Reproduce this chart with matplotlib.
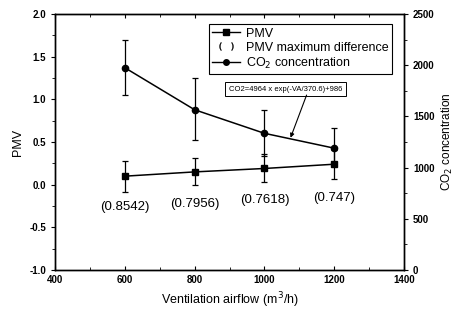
import numpy as np
import matplotlib.pyplot as plt
from matplotlib.ticker import MultipleLocator

plt.rcParams['font.family'] = ['Liberation Sans', 'DejaVu Sans']

airflow = [600, 800, 1000, 1200]
pmv = [0.10, 0.15, 0.19, 0.24]
pmv_low = [-0.08, 0.00, 0.035, 0.07]
pmv_high = [0.275, 0.31, 0.36, 0.41]
co2 = [1975, 1565, 1335, 1190]
co2_low = [1710, 1270, 1110, 1020]
co2_high = [2250, 1870, 1565, 1390]
pmv_diff = ['(0.8542)', '(0.7956)', '(0.7618)', '(0.747)']
diff_y = [-0.26, -0.23, -0.18, -0.15]

fig = plt.figure(figsize=(4.59, 3.17), dpi=100)
ax = fig.add_axes([0.12, 0.148, 0.76, 0.808])
ax2 = ax.twinx()

pmv = np.array(pmv)
perr = [pmv - np.array(pmv_low), np.array(pmv_high) - pmv]
ax.errorbar(airflow, pmv, yerr=perr, color='black', marker='s', ms=4.5,
            lw=1.1, elinewidth=0.9, capsize=2.5, capthick=0.9)
co2 = np.array(co2)
cerr = [co2 - np.array(co2_low), np.array(co2_high) - co2]
ax2.errorbar(airflow, co2, yerr=cerr, color='black', marker='o', ms=4.5,
             lw=1.1, elinewidth=0.9, capsize=2.5, capthick=0.9)

for x, y, s in zip(airflow, diff_y, pmv_diff):
    ax.text(x, y, s, ha='center', va='center', fontsize=9.5)

ax.set_xlim(400, 1400)
ax.set_ylim(-1.0, 2.0)
ax2.set_ylim(0, 2500)
ax.xaxis.set_major_locator(MultipleLocator(200))
ax.xaxis.set_minor_locator(MultipleLocator(100))
ax.yaxis.set_major_locator(MultipleLocator(0.5))
ax.yaxis.set_minor_locator(MultipleLocator(0.25))
ax2.yaxis.set_major_locator(MultipleLocator(500))
ax2.yaxis.set_minor_locator(MultipleLocator(250))
ax.yaxis.set_major_formatter(plt.FormatStrFormatter('%.1f'))

ax.tick_params(axis='x', which='both', direction='in', top=True, labelsize=7)
ax.tick_params(axis='x', which='major', length=3)
ax.tick_params(axis='x', which='minor', length=2)
ax.tick_params(axis='y', which='major', direction='out', length=3, labelsize=7)
ax.tick_params(axis='y', which='minor', direction='out', length=2)
ax2.tick_params(axis='y', which='major', direction='out', length=3, labelsize=7)
ax2.tick_params(axis='y', which='minor', direction='out', length=2)
for t in ax.get_xticklabels() + ax.get_yticklabels() + ax2.get_yticklabels():
    t.set_fontweight('bold')

ax.set_xlabel('Ventilation airflow (m$^3$/h)', fontsize=9)
ax.set_ylabel('PMV', fontsize=9)
ax2.set_ylabel('CO$_2$ concentration', fontsize=8.5, labelpad=4)

h1, = ax.plot([], [], color='black', marker='s', ms=4, lw=1)
h2, = ax.plot([], [], ls='none', marker='$(\\ \\ \\ )$', ms=10, mew=0.3, color='black')
h3, = ax.plot([], [], color='black', marker='o', ms=4, lw=1)
leg = ax.legend([h1, h2, h3], ['PMV', 'PMV maximum difference', 'CO$_2$ concentration'],
                loc='upper right', bbox_to_anchor=(0.985, 0.985), fontsize=9,
                fancybox=False, edgecolor='black', framealpha=1,
                handlelength=2.2, handletextpad=0.5, borderpad=0.3, labelspacing=0.15)
leg.get_frame().set_linewidth(0.8)

ax.text(1061, 1.12, 'CO2=4964 x exp(-VA/370.6)+986', fontsize=5.5,
        ha='center', va='center',
        bbox=dict(boxstyle='square,pad=0.5', fc='white', ec='black', lw=0.7))
ax.annotate('', xy=(1075, 0.55), xytext=(1121, 1.05),
            arrowprops=dict(arrowstyle='-|>', color='black', lw=0.8, mutation_scale=6,
                            shrinkA=0, shrinkB=0))

for a in (ax, ax2):
    for s in a.spines.values():
        s.set_linewidth(1.0)

fig.savefig('out.png', dpi=100)
